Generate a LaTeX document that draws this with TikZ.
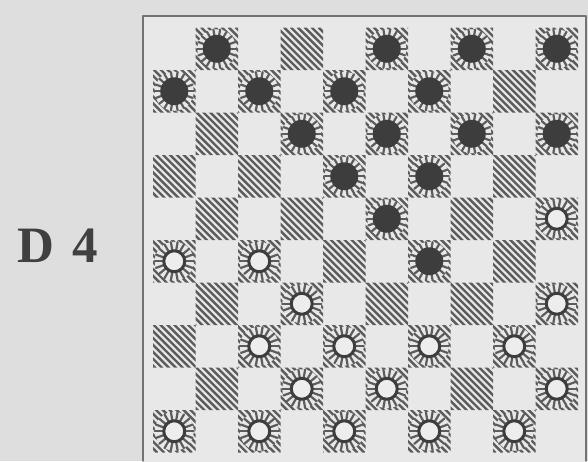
\documentclass[tikz,border=0pt]{standalone}
\usepackage{fontspec}
\setmainfont{Liberation Serif}
\definecolor{bggray}{gray}{0.87}
\definecolor{sqgray}{gray}{0.91}
\definecolor{inkgray}{gray}{0.36}
\definecolor{mangray}{gray}{0.24}
\tikzset{
  hatchln/.style={draw=inkgray, line width=2.4pt},
  spike/.style={draw=inkgray, line width=2.2pt},
  blackpc/.pic={
    \fill[sqgray] (0,0) circle (19.5pt);
    \foreach \a in {0,20,...,340} \draw[spike] (\a:11pt)--(\a:19.5pt);
    \fill[mangray] (0,0) circle (14pt);
  },
  whitepc/.pic={
    \fill[sqgray] (0,0) circle (19.5pt);
    \foreach \a in {0,20,...,340} \draw[spike] (\a:11pt)--(\a:19.5pt);
    \draw[mangray, line width=3pt, fill=white!93!black] (0,0) circle (10.5pt);
  },
  every picture/.style={line cap=round, line join=round}
}

\begin{document}
\begin{tikzpicture}[x=1pt,y=-1pt]
  \useasboundingbox[fill=bggray] (0,0) rectangle (588,461);
  \node[font=\bfseries\fontsize{51}{51}\selectfont, text=black!75] (lbl) at (57.5,246) {D\hskip0.35em 4};

  % board and frame
  \fill[sqgray] (143,16) rectangle (586,470);
  \draw[black!55, line width=1.4pt] (143,461) -- (143,16) -- (586,16) -- (586,461);

  % hatched squares
  \begin{scope}
    \clip foreach \r in {0,...,9} {foreach \k in {0,...,4}
      {({153+42.5*(2*\k+1-mod(\r,2))},{27.5+42.5*\r}) rectangle ++(42.5,42.5)}};
    \foreach \i in {-62,...,62}
      \draw[hatchln] ({153+6.9*\i},27.5) -- ++(425,425);
  \end{scope}

  % men
  \foreach \r/\c in {0/1,0/5,0/7,0/9,1/0,1/2,1/4,1/6,2/3,2/5,2/7,2/9,3/4,3/6,4/5,5/6}
    \pic at ({174.25+42.5*\c},{48.75+42.5*\r}) {blackpc};
  \foreach \r/\c in {4/9,5/0,5/2,6/3,6/9,7/2,7/4,7/6,7/8,8/3,8/5,8/9,9/0,9/2,9/4,9/6,9/8}
    \pic at ({174.25+42.5*\c},{48.75+42.5*\r}) {whitepc};
\end{tikzpicture}
\end{document}
